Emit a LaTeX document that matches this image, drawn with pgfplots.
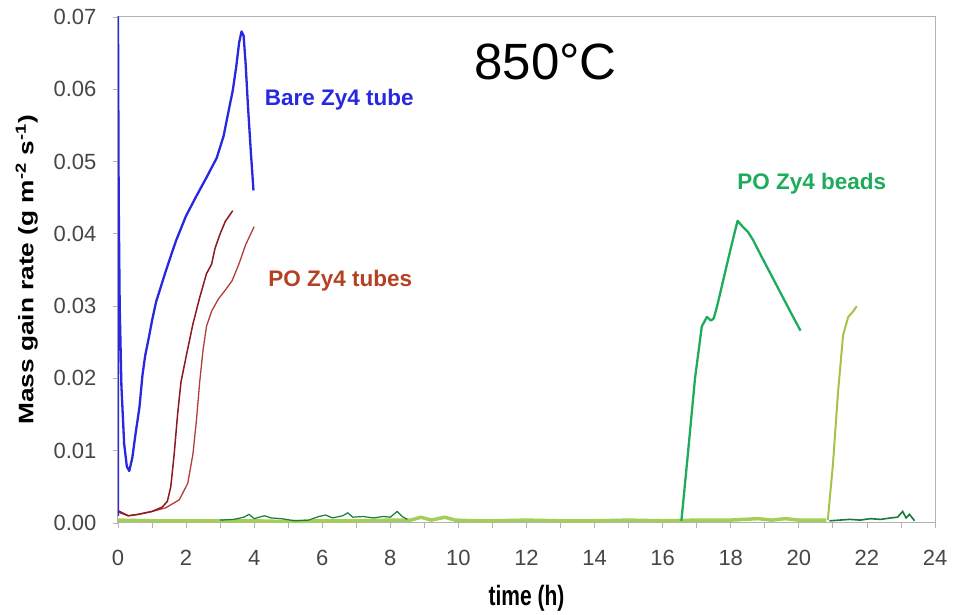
\documentclass[border=0pt]{standalone}
\usepackage{pgfplots}
\pgfplotsset{compat=1.18}
\usepackage{fontspec}
\setmainfont{Liberation Sans}
\definecolor{cblue}{RGB}{40,40,225}
\definecolor{cred1}{RGB}{140,25,30}
\definecolor{cred2}{RGB}{180,60,55}
\definecolor{clabred}{RGB}{180,65,35}
\definecolor{cgreen}{RGB}{30,172,92}
\definecolor{colive}{RGB}{165,195,75}
\definecolor{cband}{RGB}{165,205,90}
\definecolor{cdark}{RGB}{20,125,55}
\definecolor{ctick}{RGB}{70,70,70}
\begin{document}
\begin{tikzpicture}
\begin{axis}[
  scale only axis, width=817pt, height=506pt,
  xmin=0, xmax=24, ymin=0, ymax=0.07,
  xtick={0,2,...,24}, minor x tick num=1,
  ytick={0,0.01,0.02,0.03,0.04,0.05,0.06,0.07},
  scaled y ticks=false,
  yticklabel style={/pgf/number format/fixed, /pgf/number format/fixed zerofill, /pgf/number format/precision=2, font=\fontsize{22}{24}\selectfont, text=ctick, xshift=-13pt},
  xticklabel style={font=\fontsize{22}{24}\selectfont, text=ctick, yshift=-19pt},
  /pgf/number format/assume math mode=true,
  axis line style={draw=gray!60, line width=1pt},
  xtick pos=bottom, ytick pos=left,
  tick align=outside,
  major tick length=5pt, minor tick length=5pt,
  tick style={draw=gray!60, line width=0.8pt},
  xlabel={\scalebox{0.75}[1]{\bfseries time (h)}},
  xlabel style={font=\fontsize{28}{30}\selectfont, yshift=-12pt},
  ylabel={\scalebox{1.25}[1]{\bfseries Mass gain rate (g m\textsuperscript{-2} s\textsuperscript{-1})}},
  ylabel style={font=\fontsize{21}{24}\selectfont, yshift=9pt},
  clip=true,
]
% light baseline band (olive series before rise)
\addplot[cband, line width=3.5pt, line join=round] coordinates {
(0,0.0004)(1,0.0003)(2,0.0003)(3,0.0003)(4,0.0003)(5,0.0002)(6,0.0003)(7,0.0003)(8,0.0004)(8.6,0.0004)(8.9,0.0008)(9.2,0.0004)(9.6,0.0008)(9.9,0.0004)(10.5,0.0003)(11,0.0003)(12,0.0004)(13,0.0003)(14,0.0003)(15,0.0004)(16,0.0003)(17,0.0004)(18,0.0004)(18.8,0.0006)(19.2,0.0004)(19.6,0.0006)(20,0.0004)(20.8,0.0004)};
% dark green noise early
\addplot[cdark, line width=1.2pt] coordinates {
(3.0,0.0004)(3.4,0.0005)(3.7,0.0008)(3.85,0.0012)(4.0,0.0006)(4.3,0.0010)(4.5,0.0007)(4.8,0.0006)(5.2,0.0003)(5.6,0.0004)(5.9,0.0009)(6.1,0.0011)(6.3,0.0007)(6.6,0.0010)(6.75,0.0014)(6.9,0.0008)(7.2,0.0009)(7.5,0.0007)(7.8,0.0009)(8.0,0.0008)(8.2,0.0016)(8.35,0.0009)(8.5,0.0005)};
% beads baseline + rise
\addplot[cgreen, line width=2.3pt, line join=round] coordinates {
(16.55,0.0003)(16.75,0.010)(16.95,0.020)(17.15,0.0272)(17.3,0.0285)(17.42,0.0280)(17.5,0.0283)(17.6,0.0300)(17.8,0.0340)(18.0,0.0380)(18.2,0.0418)(18.35,0.0410)(18.5,0.0403)(18.65,0.0392)(18.8,0.0378)(19.0,0.0360)(19.2,0.0342)(19.4,0.0324)(19.6,0.0306)(19.8,0.0288)(20.05,0.0266)};
% olive rise
\addplot[colive, line width=2pt, line join=round] coordinates {
(20.85,0.0004)(21.0,0.008)(21.15,0.018)(21.3,0.026)(21.45,0.0285)(21.6,0.0293)(21.7,0.0300)};
% dark green late
\addplot[cdark, line width=1.6pt] coordinates {
(20.9,0.0003)(21.2,0.0004)(21.5,0.0005)(21.8,0.0004)(22.1,0.0006)(22.4,0.0005)(22.7,0.0007)(22.9,0.0008)(23.05,0.0016)(23.15,0.0007)(23.25,0.0012)(23.4,0.0003)};
% PO tubes 2 (right)
\addplot[cred2, line width=1.3pt, line join=round] coordinates {
(0,0.0015)(0.3,0.0010)(0.6,0.0012)(1.0,0.0016)(1.4,0.0021)(1.8,0.0032)(2.05,0.0055)(2.2,0.0095)(2.3,0.0140)(2.4,0.0195)(2.5,0.0240)(2.6,0.0272)(2.75,0.0293)(2.95,0.0310)(3.15,0.0322)(3.35,0.0335)(3.55,0.0358)(3.75,0.0385)(4.0,0.0410)};
% PO tubes 1 (left)
\addplot[cred1, line width=1.5pt, line join=round] coordinates {
(0,0.0017)(0.3,0.0010)(0.6,0.0012)(1.0,0.0016)(1.3,0.0022)(1.45,0.0030)(1.55,0.0050)(1.65,0.0095)(1.75,0.0150)(1.85,0.0195)(2.0,0.0230)(2.2,0.0275)(2.4,0.0312)(2.6,0.0345)(2.75,0.0358)(2.85,0.0380)(3.0,0.0400)(3.15,0.0417)(3.37,0.0432)};
% Bare tube
\addplot[cblue, line width=2.3pt, line join=round] coordinates {
(0,0.0010)(0,0.0700)(0.02,0.045)(0.05,0.030)(0.1,0.019)(0.18,0.0110)(0.26,0.0078)(0.33,0.0072)(0.42,0.0090)(0.52,0.0125)(0.63,0.0160)(0.72,0.0205)(0.8,0.0232)(0.9,0.0255)(1.0,0.0280)(1.12,0.0306)(1.4,0.0348)(1.7,0.0390)(2.0,0.0425)(2.3,0.0452)(2.6,0.0478)(2.9,0.0505)(3.1,0.0535)(3.27,0.0575)(3.37,0.0598)(3.47,0.0630)(3.56,0.0665)(3.63,0.0680)(3.69,0.0674)(3.75,0.0635)(3.82,0.0575)(3.9,0.0515)(3.98,0.0460)};
\node[font=\fontsize{51}{56}\selectfont] at (axis cs:12.56,0.0638) {850°C};
\node[font=\fontsize{22.5}{26}\selectfont\bfseries, text=cblue] at (axis cs:6.5,0.0585) {Bare Zy4 tube};
\node[font=\fontsize{22.5}{26}\selectfont\bfseries, text=clabred] at (axis cs:6.53,0.0335) {PO Zy4 tubes};
\node[font=\fontsize{22.5}{26}\selectfont\bfseries, text=cgreen] at (axis cs:20.38,0.0470) {PO Zy4 beads};
\end{axis}
\path (current axis.south west) ++(-118pt,-91pt) rectangle ++(962pt,614pt);
\end{tikzpicture}
\end{document}
